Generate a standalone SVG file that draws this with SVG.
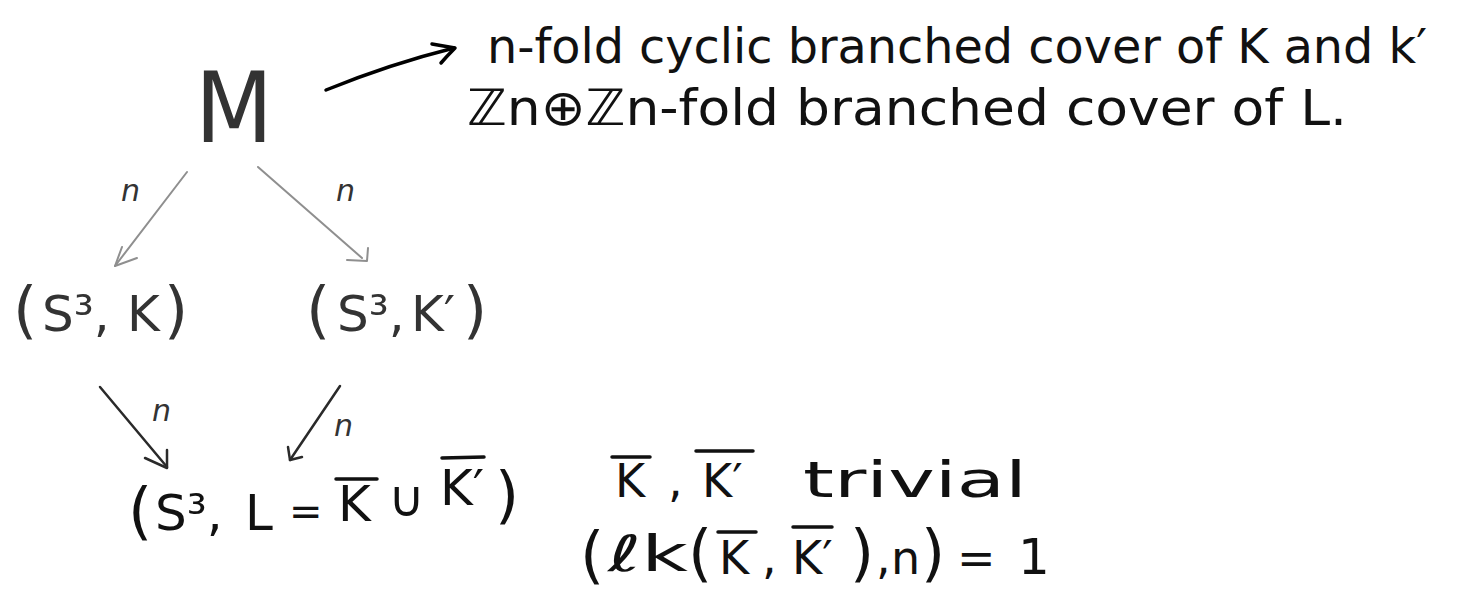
<svg xmlns="http://www.w3.org/2000/svg" width="1462" height="607" viewBox="0 0 1462 607">
<style>
text{font-family:"DejaVu Sans","Liberation Sans",sans-serif;fill:#111}
.f50{font-size:50px}
.f46{font-size:46px}
.par{font-size:62px}
.gr{fill:#333}
.lab{font-size:30px;font-style:italic;fill:#333}
.ob{stroke:#111;stroke-width:3.5;stroke-linecap:round}
.g{stroke:#8f8f8f;stroke-width:2;fill:none;stroke-linecap:round;stroke-linejoin:round}
.d{stroke:#2a2a2a;stroke-width:2.5;fill:none;stroke-linecap:round;stroke-linejoin:round}
.k{stroke:#000;stroke-width:3.5;fill:none;stroke-linecap:round;stroke-linejoin:round}
</style>
<rect width="1462" height="607" fill="#fff"/>
<g id="connectors">
  <g id="e-M-note">
    <path class="k" d="M326,90 Q390,64 454,48"/>
    <path class="k" d="M432,44 L455,48 Q447,56 441,63"/>
  </g>
  <g id="e-M-SK">
    <line class="g" x1="187" y1="172" x2="115" y2="266"/>
    <path class="g" d="M122,247 L115,266 L137,258"/>
    <text class="lab" x="121" y="201">n</text>
  </g>
  <g id="e-M-SK2">
    <line class="g" x1="258" y1="167" x2="362" y2="258"/>
    <path class="g" d="M368,248 L367,261 L347,260"/>
    <text class="lab" x="336" y="201">n</text>
  </g>
  <g id="e-SK-L">
    <line class="d" x1="100" y1="387" x2="167" y2="467"/>
    <path class="d" d="M167,450 L167,468 L145,458"/>
    <text class="lab" x="152" y="421">n</text>
  </g>
  <g id="e-SK2-L">
    <line class="d" x1="340" y1="386" x2="290" y2="460"/>
    <path class="d" d="M288,447 L290,460 L302,457"/>
    <text class="lab" x="334" y="436">n</text>
  </g>
</g>
<g id="node-M">
  <text x="195" y="142" font-size="98" textLength="78" lengthAdjust="spacingAndGlyphs" class="gr">M</text>
</g>
<g id="node-note">
  <text x="487" y="63" font-size="48" textLength="940" lengthAdjust="spacingAndGlyphs">n-fold cyclic branched cover of K and k′</text>
  <text class="f50" x="467" y="125" textLength="880" lengthAdjust="spacingAndGlyphs">ℤn⊕ℤn-fold branched cover of L.</text>
</g>
<g id="node-SK">
  <text class="f50 gr" y="331"><tspan class="par" x="13">(</tspan><tspan x="42">S³,</tspan><tspan x="127">K</tspan><tspan class="par" x="164">)</tspan></text>
</g>
<g id="node-SK2">
  <text class="f50 gr" y="331"><tspan class="par" x="306">(</tspan><tspan x="337">S³,</tspan><tspan x="411">K′</tspan><tspan class="par" x="463">)</tspan></text>
</g>
<g id="node-L">
  <text class="f50"><tspan class="par" x="128" y="532">(</tspan><tspan x="155" y="530">S³,</tspan><tspan x="245" y="530">L</tspan><tspan x="289" y="525" font-size="40">=</tspan><tspan x="338" y="521">K</tspan><tspan x="388" y="516">∪</tspan><tspan x="440" y="505">K′</tspan><tspan class="par" x="495" y="516">)</tspan></text>
  <line class="ob" x1="336" y1="479" x2="377" y2="479"/>
  <line class="ob" x1="442" y1="458" x2="484" y2="457"/>
</g>
<g id="node-cond">
  <text class="f46" y="497"><tspan x="615">K</tspan><tspan x="668">,</tspan><tspan x="702">K′</tspan></text>
  <text class="f50" x="803" y="497" textLength="224" lengthAdjust="spacingAndGlyphs">trivial</text>
  <line class="ob" x1="612" y1="457" x2="650" y2="457"/>
  <line class="ob" x1="696" y1="451" x2="753" y2="451"/>
  <text class="f46" y="570"><tspan class="par" x="580" y="576">(</tspan></text>
  <text class="f50" x="608" y="571" textLength="80" lengthAdjust="spacingAndGlyphs">ℓk</text>
  <text class="f46" y="570"><tspan class="par" x="688" y="574">(</tspan><tspan x="719">K</tspan><tspan x="762">,</tspan><tspan x="792">K′</tspan><tspan class="par" x="850" y="574">)</tspan><tspan x="876">,</tspan><tspan x="891">n</tspan><tspan class="par" x="921" y="574">)</tspan><tspan x="957">=</tspan><tspan x="1018" y="574" font-size="50">1</tspan></text>
  <line class="ob" x1="718" y1="532" x2="756" y2="532"/>
  <line class="ob" x1="793" y1="527" x2="832" y2="527"/>
</g>
</svg>
